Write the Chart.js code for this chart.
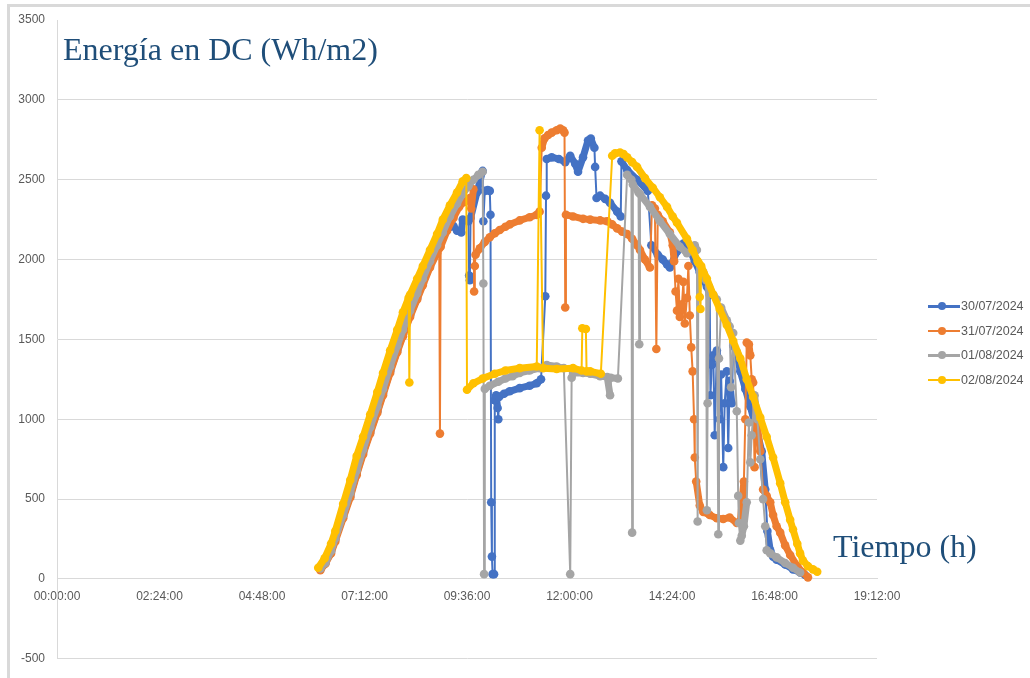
<!DOCTYPE html>
<html>
<head>
<meta charset="utf-8">
<script src="https://cdn.jsdelivr.net/npm/chart.js@4.4.1/dist/chart.umd.min.js"></script>
<style>
  body { margin: 0; background: #fff; }
  #wrap { position: relative; width: 1030px; height: 678px; overflow: hidden; background: #fff; }
  .frame { position: absolute; left: 7px; top: 4px; width: 1200px; height: 1000px; border: 3px solid #d9d9d9; }
  #chart { position: absolute; left: 0; top: 0; }
  .label { position: absolute; font-family: "Liberation Serif", "Times New Roman", serif; font-size: 32px; line-height: 32px; color: #1F4E79; white-space: nowrap; }
  #legend { position: absolute; left: 928px; top: 294px; font-family: "Liberation Sans", Arial, sans-serif; font-size: 12.5px; color: #595959; }
  #legend .item { display: flex; align-items: center; height: 24.5px; }
  #legend .icon { position: relative; width: 32px; height: 10px; margin-right: 1px; }
  #legend .line { position: absolute; left: 0; right: 0; top: 4px; height: 2.5px; }
  #legend .dot { position: absolute; left: 10px; top: 1px; width: 8px; height: 8px; border-radius: 50%; }
</style>
</head>
<body>
<div id="wrap">
  <div class="frame"></div>
  <canvas id="chart" width="1030" height="678"></canvas>
  <div class="label" style="left:63px; top:33px;">Energía en DC (Wh/m2)</div>
  <div class="label" style="left:833px; top:530px;">Tiempo (h)</div>
  <div id="legend"></div>
</div>
<script>
// series names
const seriesLabels = ["30/07/2024", "31/07/2024", "01/08/2024", "02/08/2024"];

// x axis ticks, minutes from midnight (every 2:24)
const xTicks = [0, 144, 288, 432, 576, 720, 864, 1008, 1152];
// y axis ticks
const yTicks = [-500, 0, 500, 1000, 1500, 2000, 2500, 3000, 3500];

// 30/07/2024
const t3007 = ["06:10","06:17","06:25","06:31","06:42","06:52","07:01","07:10","07:20","07:30","07:38","07:48","07:58","08:06","08:16","08:26","08:34","08:44","08:54","09:02","09:08","09:17","09:22","09:28","09:30","09:38","09:39","09:40","09:41","09:50","09:58","09:59","10:01","10:05","10:08","10:09","10:10","10:11","10:12","10:14","10:15","10:17","10:19","10:20","10:21","10:28","10:36","10:50","11:04","11:14","11:20","11:26","11:27","11:28","11:35","11:45","11:54","12:01","12:08","12:12","12:19","12:26","12:30","12:35","12:36","12:38","12:43","12:50","12:57","13:07","13:12","13:13","13:21","13:35","13:50","13:55","14:04","14:11","14:17","14:21","14:31","14:40","14:49","14:56","15:03","15:13","15:17","15:18","15:20","15:22","15:24","15:27","15:29","15:31","15:33","15:36","15:38","15:41","15:43","15:45","15:48","15:50","15:55","16:00","16:07","16:14","16:23","16:30","16:35","16:38","16:42","16:46","16:51","17:03","17:14","17:24","17:31"];
const e3007 = [60,100,170,250,390,520,660,790,920,1050,1160,1300,1430,1530,1650,1760,1850,1960,2060,2140,2190,2210,2180,2170,2250,2240,1900,1870,2260,2420,2555,2240,2430,2435,2430,2280,480,140,30,30,1120,1150,1070,1000,1140,1160,1175,1195,1210,1225,1250,1770,2400,2630,2640,2630,2610,2650,2600,2550,2640,2745,2757,2700,2580,2385,2400,2380,2355,2300,2270,2615,2560,2500,2430,2090,2030,2000,1970,1950,2050,2100,2060,1990,1920,1830,1780,1150,1340,1400,900,1430,1380,1000,1280,700,1100,1300,820,1240,1100,1460,1420,1300,1190,1080,930,800,560,300,180,140,120,90,60,40,25];

// 31/07/2024
const t3107 = ["06:10","06:17","06:25","06:31","06:42","06:52","07:01","07:10","07:20","07:30","07:38","07:48","07:58","08:06","08:16","08:26","08:34","08:44","08:54","08:57","08:58","08:59","09:08","09:17","09:25","09:32","09:40","09:42","09:45","09:46","09:47","09:48","09:54","10:01","10:08","10:15","10:22","10:30","10:36","10:50","11:04","11:14","11:18","11:21","11:25","11:30","11:35","11:42","11:47","11:51","11:53","11:54","11:55","12:05","12:19","12:29","12:43","12:53","13:00","13:07","13:14","13:21","13:28","13:35","13:39","13:46","13:53","13:56","14:00","14:02","14:04","14:11","14:21","14:25","14:27","14:29","14:31","14:33","14:35","14:38","14:40","14:42","14:45","14:47","14:49","14:51","14:53","14:55","14:56","14:58","15:03","15:08","15:17","15:27","15:36","15:45","15:55","16:00","16:05","16:07","16:09","16:12","16:14","16:16","16:18","16:20","16:23","16:28","16:32","16:37","16:42","16:46","16:51","16:56","17:03","17:10","17:20","17:28","17:35"];
const e3107 = [55,95,160,235,380,510,650,780,910,1040,1150,1290,1420,1520,1640,1750,1840,1950,2040,2070,910,2080,2180,2260,2330,2360,2385,2320,2440,1800,1960,2030,2070,2110,2140,2165,2185,2205,2220,2245,2265,2280,2300,2700,2760,2780,2795,2810,2820,2810,2795,1700,2280,2270,2255,2250,2245,2240,2220,2195,2175,2160,2130,2090,2060,2000,1950,2340,2320,1440,2280,2240,2170,2090,1990,1800,1680,1880,1640,1720,1860,1600,1760,1960,1650,1450,1300,1000,760,610,460,420,400,380,375,385,350,360,610,1000,1480,1470,1400,1250,1230,700,1000,800,560,520,480,400,330,290,210,150,80,40,10];

// 01/08/2024
const t0108 = ["06:10","06:17","06:25","06:31","06:42","06:52","07:01","07:10","07:20","07:30","07:38","07:48","07:58","08:06","08:16","08:26","08:34","08:44","08:54","09:02","09:12","09:22","09:30","09:38","09:45","09:52","09:58","09:59","10:00","10:01","10:08","10:20","10:30","10:40","10:50","11:04","11:18","11:28","11:42","11:52","12:01","12:03","12:05","12:19","12:29","12:43","12:53","12:57","12:58","13:08","13:21","13:27","13:28","13:29","13:37","13:38","13:39","13:53","14:07","14:21","14:35","14:45","14:53","14:56","14:59","15:00","15:01","15:08","15:12","15:13","15:14","15:16","15:22","15:27","15:29","15:30","15:33","15:41","15:45","15:47","15:50","15:55","15:57","15:58","16:00","16:02","16:05","16:09","16:12","16:14","16:16","16:20","16:24","16:28","16:32","16:35","16:37","16:42","16:51","17:03","17:14","17:24"];
const e0108 = [65,100,175,255,400,540,680,810,950,1080,1190,1330,1460,1560,1680,1790,1880,1990,2090,2170,2270,2350,2410,2460,2500,2530,2550,1850,30,1190,1210,1235,1255,1270,1290,1305,1320,1340,1330,1320,30,1260,1290,1290,1285,1270,1265,1150,1260,1255,2530,2500,290,2470,2420,1470,2410,2330,2240,2160,2080,2040,2060,2090,2060,360,1980,1920,1870,430,1100,1830,1780,1750,280,1380,1700,1620,1580,1200,1540,1050,520,350,240,270,330,480,980,730,900,1150,1000,750,500,330,180,160,135,100,70,40];

// 02/08/2024
const t0208 = ["06:07","06:16","06:25","06:31","06:42","06:52","07:01","07:10","07:20","07:30","07:38","07:48","07:58","08:06","08:14","08:15","08:16","08:26","08:34","08:44","08:54","09:02","09:12","09:22","09:30","09:35","09:36","09:45","09:58","10:15","10:30","10:50","11:14","11:18","11:23","11:42","12:05","12:17","12:18","12:23","12:24","12:29","12:44","13:00","13:04","13:11","13:16","13:21","13:28","13:35","13:46","13:57","14:07","14:17","14:25","14:31","14:45","14:53","15:00","15:02","15:03","15:04","15:05","15:13","15:22","15:31","15:41","15:50","16:00","16:09","16:18","16:28","16:37","16:46","16:56","17:03","17:10","17:14","17:20","17:24","17:28","17:35","17:42","17:48"];
const e0208 = [70,130,220,300,470,620,770,890,1030,1170,1290,1430,1560,1670,1760,1230,1780,1880,1960,2060,2160,2250,2340,2420,2490,2510,1185,1225,1255,1285,1305,1320,1330,2810,1320,1315,1320,1305,1570,1565,1300,1300,1285,2650,2665,2670,2660,2640,2610,2580,2510,2450,2390,2330,2270,2230,2130,2060,1990,1975,1765,1690,1960,1880,1780,1690,1590,1490,1380,1250,1140,1010,890,760,600,480,370,310,220,160,115,80,60,45];

const colors = ["#4472C4", "#ED7D31", "#A5A5A5", "#FFC000"];
const drawOrder = [3, 2, 1, 0]; // yellow on top, like the original

const toMin = s => { const p = s.split(":"); return +p[0] * 60 + +p[1]; };
const pad = n => String(n).padStart(2, "0");

// steep jumps are drawn as thin lines, the dense smooth parts as a thick band
const steep = c => {
  const dx = (c.p1.parsed.x - c.p0.parsed.x) / 60;
  const dy = Math.abs(c.p1.parsed.y - c.p0.parsed.y);
  return dx <= 0 || dy / dx > 3000;
};

function makeSet(i, times, vals) {
  return {
    label: seriesLabels[i],
    data: times.map((t, k) => ({ x: toMin(t), y: vals[k] })),
    order: drawOrder[i],
    showLine: true,
    borderColor: colors[i],
    backgroundColor: colors[i],
    borderWidth: 7,
    borderCapStyle: "round",
    borderJoinStyle: "round",
    pointRadius: 4.3,
    pointHoverRadius: 4.3,
    pointBorderWidth: 0,
    segment: { borderWidth: c => steep(c) ? 2 : 7 }
  };
}

const tickFont = { family: "'Liberation Sans', Arial, sans-serif", size: 12 };

const chart = new Chart(document.getElementById("chart"), {
  type: "scatter",
  data: {
    datasets: [
      makeSet(0, t3007, e3007),
      makeSet(1, t3107, e3107),
      makeSet(2, t0108, e0108),
      makeSet(3, t0208, e0208)
    ]
  },
  options: {
    responsive: false,
    animation: false,
    layout: { padding: { left: 0, right: 153, top: 20, bottom: 12 } },
    plugins: {
      legend: { display: false },
      tooltip: { enabled: false }
    },
    scales: {
      x: {
        type: "linear",
        position: { y: 0 },
        min: xTicks[0],
        max: xTicks[xTicks.length - 1],
        afterBuildTicks: s => { s.ticks = xTicks.map(v => ({ value: v })); },
        grid: { display: false, drawTicks: false },
        border: { display: true, color: "#d9d9d9", width: 1 },
        ticks: {
          padding: 11,
          color: "#595959",
          font: tickFont,
          maxRotation: 0,
          autoSkip: false,
          callback: v => pad(Math.floor(v / 60)) + ":" + pad(v % 60) + ":00"
        }
      },
      y: {
        min: yTicks[0],
        max: yTicks[yTicks.length - 1],
        afterBuildTicks: s => { s.ticks = yTicks.map(v => ({ value: v })); },
        afterFit: s => { s.width = 57; },
        grid: {
          drawTicks: false,
          color: c => (c.tick && c.tick.value === 3500) ? "rgba(0,0,0,0)" : "#d9d9d9"
        },
        border: { display: true, color: "#d9d9d9", width: 1 },
        ticks: { padding: 12, color: "#595959", font: tickFont, callback: v => String(v) }
      }
    }
  }
});

// legend, in series order
const legendEl = document.getElementById("legend");
chart.data.datasets.forEach(ds => {
  const row = document.createElement("div");
  row.className = "item";
  row.innerHTML = '<span class="icon"><span class="line" style="background:' + ds.borderColor +
    '"></span><span class="dot" style="background:' + ds.borderColor + '"></span></span><span>' + ds.label + '</span>';
  legendEl.appendChild(row);
});
</script>
</body>
</html>
